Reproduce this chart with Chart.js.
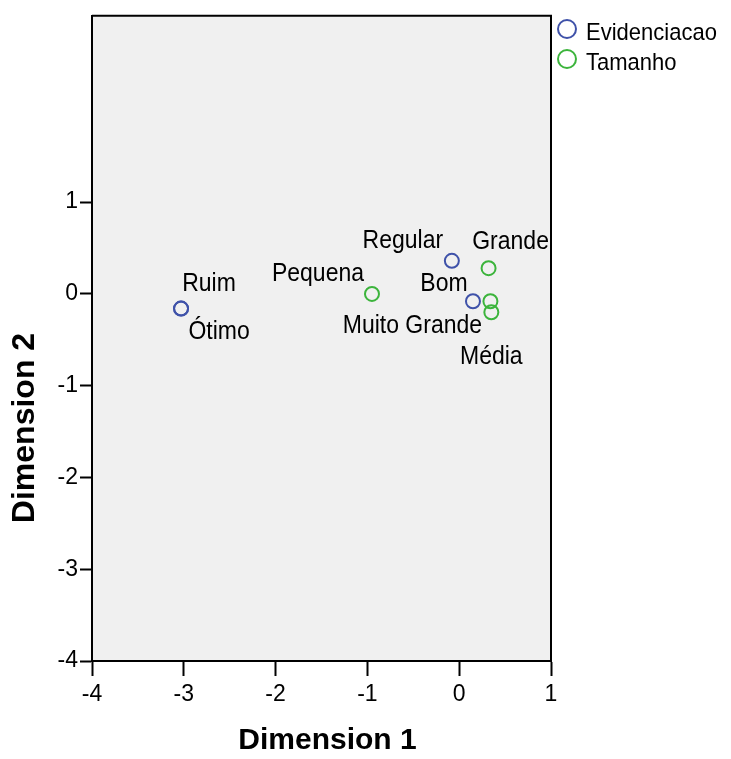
<!DOCTYPE html>
<html>
<head>
<meta charset="utf-8">
<script src="https://cdn.jsdelivr.net/npm/chart.js@4.4.1/dist/chart.umd.min.js"></script>
<style>
  html, body { margin: 0; padding: 0; background: #fff; }
  canvas { display: block; }
</style>
</head>
<body>
<canvas id="plot" width="731" height="759"></canvas>
<script>
// Evidenciacao categories and their coordinates
const evidLabels = ['Ruim', 'Ótimo', 'Regular', 'Bom'];
const evidX = [-3.03, -3.03, -0.08, 0.15];
const evidY = [-0.16, -0.16, 0.36, -0.08];

// Tamanho categories
const tamLabels = ['Pequena', 'Grande', 'Muito Grande', 'Média'];
const tamX = [-0.95, 0.32, 0.34, 0.35];
const tamY = [0.00, 0.28, -0.08, -0.20];

const xTicks = [-4, -3, -2, -1, 0, 1];
const yTicks = [-4, -3, -2, -1, 0, 1];

// where each point label sits, relative to its marker (px)
const labelOffsets = {
    'Ruim': [28, -26], 'Ótimo': [38, 22], 'Regular': [-49, -21], 'Bom': [-29, -18],
    'Pequena': [-54, -21], 'Grande': [22, -27], 'Muito Grande': [-78, 24], 'Média': [0, 44]
};

const BLUE = '#3f52a9';
const GREEN = '#3cb43c';
const FONT = "'Liberation Sans', Arial, sans-serif";

function toPoints(xs, ys) {
    return xs.map((x, i) => ({ x: x, y: ys[i] }));
}

// text a little taller than wide, like the original export
function tallText(ctx, txt, x, y, sy) {
    ctx.save();
    ctx.translate(x, y);
    ctx.scale(1, sy);
    ctx.fillText(txt, 0, 0);
    ctx.restore();
}

const plotFrame = {
    id: 'plotFrame',
    beforeDraw(chart) {
        const { ctx, chartArea: a } = chart;
        ctx.save();
        ctx.fillStyle = '#f0f0f0';
        ctx.fillRect(a.left, a.top, a.right - a.left, a.bottom - a.top);
        ctx.restore();
    },
    afterDraw(chart) {
        const { ctx, chartArea: a } = chart;
        ctx.save();
        ctx.strokeStyle = '#000';
        ctx.lineWidth = 2;
        ctx.beginPath();
        ctx.moveTo(a.left, a.top);
        ctx.lineTo(a.right, a.top);
        ctx.lineTo(a.right, a.bottom);
        ctx.stroke();

        // axis titles
        ctx.fillStyle = '#000';
        ctx.font = 'bold 30px ' + FONT;
        ctx.textAlign = 'center';
        ctx.textBaseline = 'middle';
        ctx.fillText('Dimension 1', (a.left + a.right) / 2 + 6, 741);
        ctx.font = 'bold 32px ' + FONT;
        ctx.translate(25, 428);
        ctx.rotate(-Math.PI / 2);
        ctx.fillText('Dimension 2', 0, 0);
        ctx.restore();

        // legend
        ctx.save();
        ctx.font = '22px ' + FONT;
        ctx.textAlign = 'left';
        ctx.textBaseline = 'alphabetic';
        chart.data.datasets.forEach((ds, i) => {
            const cy = 29 + i * 30;
            ctx.beginPath();
            ctx.arc(567, cy, 9, 0, Math.PI * 2);
            ctx.strokeStyle = ds.borderColor;
            ctx.lineWidth = 2;
            ctx.stroke();
            ctx.fillStyle = '#000';
            tallText(ctx, ds.label, 586, cy + 11, 1.12);
        });
        ctx.restore();
    }
};

const pointLabels = {
    id: 'pointLabels',
    afterDatasetsDraw(chart) {
        const ctx = chart.ctx;
        ctx.save();
        ctx.font = '23px ' + FONT;
        ctx.fillStyle = '#000';
        ctx.textAlign = 'center';
        ctx.textBaseline = 'alphabetic';
        chart.data.datasets.forEach((ds, di) => {
            const meta = chart.getDatasetMeta(di);
            meta.data.forEach((pt, i) => {
                const name = ds.names[i];
                const off = labelOffsets[name] || [0, -20];
                tallText(ctx, name, pt.x + off[0], pt.y + off[1] + 8, 1.1);
            });
        });
        ctx.restore();
    }
};

const chart = new Chart(document.getElementById('plot').getContext('2d'), {
    type: 'scatter',
    data: {
        datasets: [{
            label: 'Evidenciacao',
            names: evidLabels,
            data: toPoints(evidX, evidY),
            borderColor: BLUE,
            backgroundColor: 'rgba(0,0,0,0)',
            borderWidth: 2,
            pointRadius: 7,
            pointHoverRadius: 7
        }, {
            label: 'Tamanho',
            names: tamLabels,
            data: toPoints(tamX, tamY),
            borderColor: GREEN,
            backgroundColor: 'rgba(0,0,0,0)',
            borderWidth: 2,
            pointRadius: 7,
            pointHoverRadius: 7
        }]
    },
    options: {
        responsive: false,
        devicePixelRatio: 1,
        animation: false,
        layout: { padding: { top: 14, right: 180, left: 0, bottom: 0 } },
        plugins: {
            legend: { display: false },
            tooltip: { enabled: false }
        },
        scales: {
            x: {
                type: 'linear',
                min: -4,
                max: 1,
                afterBuildTicks: s => { s.ticks = xTicks.map(v => ({ value: v })); },
                afterFit: s => { s.height = 98; },
                grid: { drawOnChartArea: false, drawTicks: true, tickLength: 15, tickColor: '#000', tickWidth: 2 },
                border: { display: true, color: '#000', width: 2 },
                ticks: { color: '#000', padding: 5, font: { family: FONT, size: 23 } }
            },
            y: {
                type: 'linear',
                min: -4,
                max: 3.03,
                afterBuildTicks: s => { s.ticks = yTicks.map(v => ({ value: v })); },
                afterFit: s => { s.width = 92; },
                grid: { drawOnChartArea: false, drawTicks: true, tickLength: 12, tickColor: '#000', tickWidth: 2 },
                border: { display: true, color: '#000', width: 2 },
                ticks: { color: '#000', padding: 2, font: { family: FONT, size: 23 } }
            }
        }
    },
    plugins: [plotFrame, pointLabels]
});
</script>
</body>
</html>
